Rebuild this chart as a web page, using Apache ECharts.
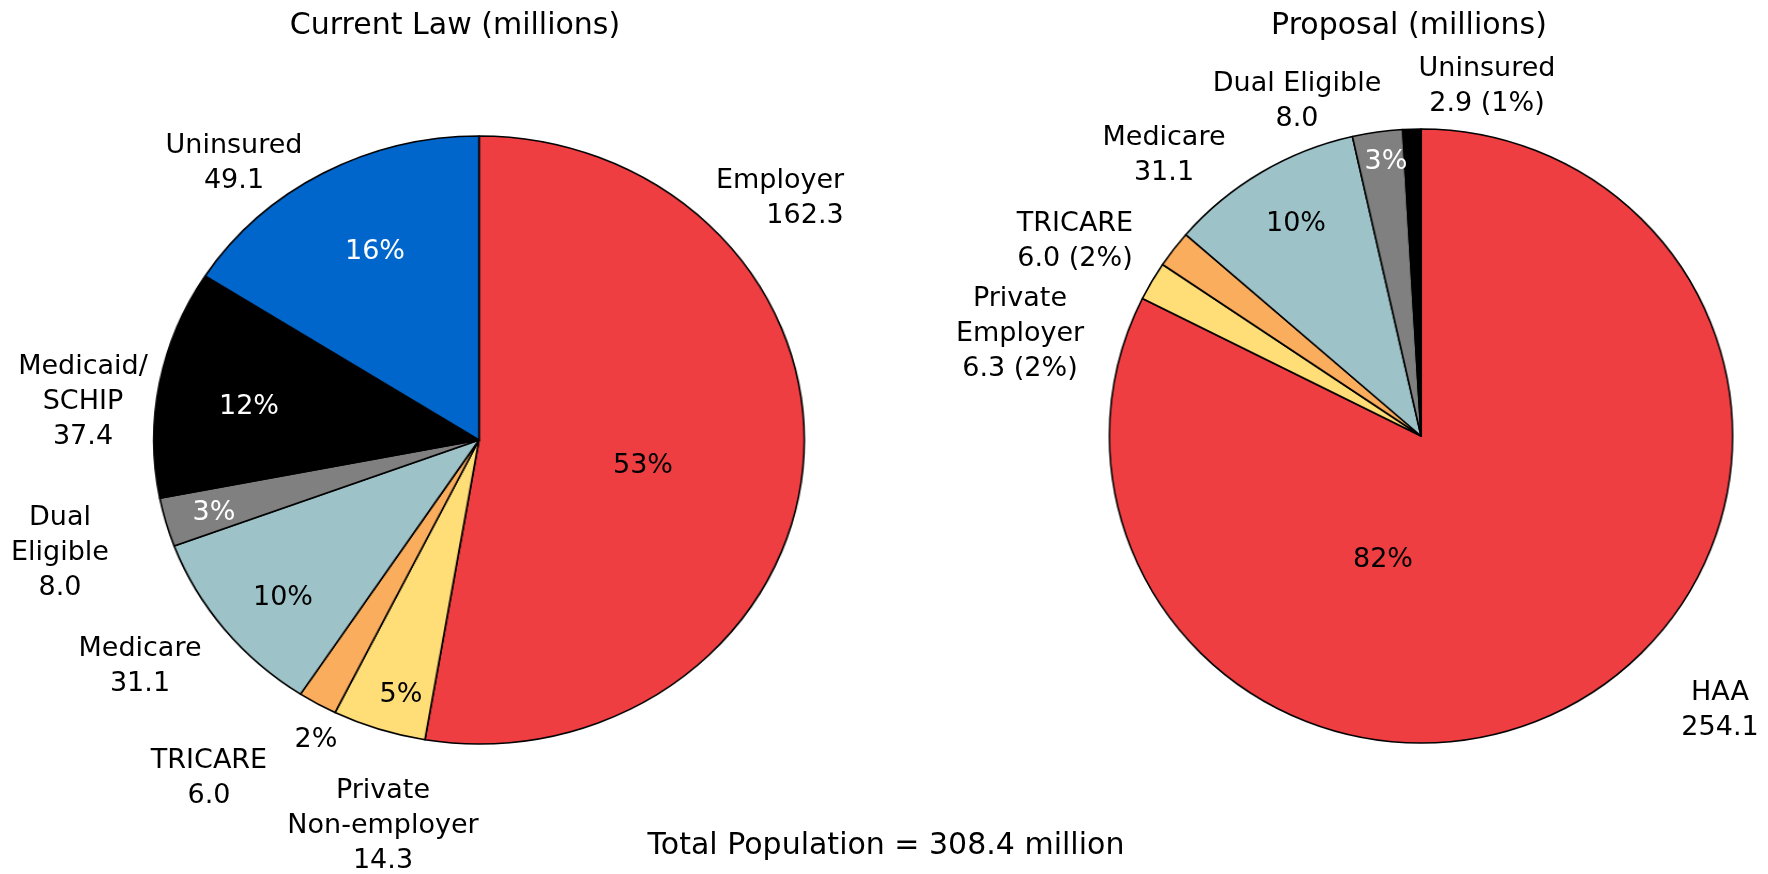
<!DOCTYPE html>
<html>
<head>
<meta charset="utf-8">
<script src="https://cdn.jsdelivr.net/npm/echarts@6/dist/echarts.min.js"></script>
<style>
html,body{margin:0;padding:0;background:#fff;}
#wrap{position:relative;width:1768px;height:874px;overflow:hidden;background:#fff;}
.layer{position:absolute;left:0;top:0;height:874px;transform-origin:0 0;}
</style>
</head>
<body>
<div id="wrap">
  <div id="pieL" class="layer"></div>
  <div id="pieR" class="layer"></div>
  <div id="main" class="layer" style="width:1768px;"></div>
</div>
<script>
// ---------- data ----------
const leftTitle = 'Current Law (millions)';
const rightTitle = 'Proposal (millions)';
const footer = 'Total Population = 308.4 million';

const leftNames  = ['Employer', 'Private\nNon-employer', 'TRICARE', 'Medicare', 'Dual\nEligible', 'Medicaid/\nSCHIP', 'Uninsured'];
const leftValues = [162.3, 14.3, 6.0, 31.1, 8.0, 37.4, 49.1];

const rightNames  = ['HAA', 'Private\nEmployer', 'TRICARE', 'Medicare', 'Dual Eligible', 'Uninsured'];
const rightValues = [254.1, 6.3, 6.0, 31.1, 8.0, 2.9];
const rightPctInName = [false, true, true, false, false, true];
const rightPctInside = [true, false, false, true, true, false];

// ---------- styles / positions ----------
const leftColors  = ['#EE3E42', '#FFDD77', '#FBAD5E', '#9DC3C8', '#808080', '#000000', '#0066CC'];
const rightColors = ['#EE3E42', '#FFDD77', '#FBAD5E', '#9DC3C8', '#808080', '#000000'];
const leftPctColors  = ['#000', '#000', '#000', '#000', '#fff', '#fff', '#fff'];
const rightPctColors = ['#000', '#000', '#000', '#000', '#fff', '#fff'];

// the reference pies are slightly wider than tall: draw them horizontally stretched
const SX_L = 1.07, SX_R = 1.015;
const LEFT_C = [479, 440], LEFT_R = 304;
const RIGHT_C = [1421, 436], RIGHT_R = 307;

const leftNamePos  = [[790, 198], [383, 826], [209, 778], [140, 666], [60, 553], [83, 402], [234, 163]];
const leftPctPos   = [[643, 466], [401, 695], [316, 740], [283, 598], [214, 513], [249, 407], [375, 252]];
const rightNamePos = [[1720, 710], [1020, 334], [1075, 241], [1164, 155], [1297, 101], [1487, 86]];
const rightPctPos  = [[1383, 560], [0, 0], [0, 0], [1296, 224], [1386, 162], [0, 0]];

const FONT = '"DejaVu Sans", Verdana, sans-serif';
const LABEL_SIZE = 27, LINE_H = 35, PCT_SIZE = 27, TITLE_SIZE = 30;

// ---------- visible pies ----------
function pieLayer(id, sx, center, r, names, values, colors) {
  const el = document.getElementById(id);
  el.style.width = (1768 / sx) + 'px';
  el.style.transform = 'scaleX(' + sx + ')';
  const ch = echarts.init(el, null, {renderer: 'canvas'});
  ch.setOption({
    animation: false,
    series: [{
      type: 'pie',
      silent: true,
      center: [center[0] / sx, center[1]],
      radius: r,
      startAngle: 90,
      clockwise: true,
      label: {show: false},
      labelLine: {show: false},
      itemStyle: {borderColor: '#000', borderWidth: 1.6},
      data: values.map((v, i) => ({name: names[i], value: v, itemStyle: {color: colors[i]}}))
    }]
  });
}
pieLayer('pieL', SX_L, LEFT_C, LEFT_R, leftNames, leftValues, leftColors);
pieLayer('pieR', SX_R, RIGHT_C, RIGHT_R, rightNames, rightValues, rightColors);

// ---------- labels (carried by transparent pies of the same data) ----------
function carrier(center, r, names, values, posArr, fmt, itemLabel, size) {
  return {
    type: 'pie',
    silent: true,
    center: center,
    radius: r,
    startAngle: 90,
    avoidLabelOverlap: false,
    itemStyle: {color: 'rgba(0,0,0,0)', borderWidth: 0},
    emphasis: {disabled: true},
    labelLine: {show: false},
    label: {
      show: true, position: 'inside', formatter: fmt,
      fontFamily: FONT, fontSize: size, lineHeight: LINE_H, color: '#000', align: 'center',
      rich: {
        e: {fontFamily: FONT, fontSize: size, lineHeight: LINE_H, color: '#000', padding: [0, 20, 0, 0]},
        v: {fontFamily: FONT, fontSize: size, lineHeight: LINE_H, color: '#000', padding: [0, 0, 0, 30]}
      }
    },
    labelLayout: function (p) {
      const q = posArr[p.dataIndex];
      return {x: q[0], y: q[1], align: 'center', verticalAlign: 'middle', hideOverlap: false};
    },
    data: values.map((v, i) => ({name: names[i], value: v, label: itemLabel ? itemLabel(i) : {}}))
  };
}
const pct = p => Math.round(p.percent) + '%';
const leftNameFmt = p => p.dataIndex === 0
  ? '{e|' + p.name + '}\n{v|' + p.value.toFixed(1) + '}'
  : p.name + '\n' + p.value.toFixed(1);
const rightNameFmt = p => p.name + '\n' + p.value.toFixed(1) +
  (rightPctInName[p.dataIndex] ? ' (' + Math.round(p.percent) + '%)' : '');

const main = echarts.init(document.getElementById('main'), null, {renderer: 'canvas'});
main.setOption({
  animation: false,
  backgroundColor: 'transparent',
  graphic: [
    {type: 'text', x: 455, y: 26, style: {text: leftTitle, font: TITLE_SIZE + 'px ' + FONT, fill: '#000', textAlign: 'center', textVerticalAlign: 'middle'}},
    {type: 'text', x: 1409, y: 26, style: {text: rightTitle, font: TITLE_SIZE + 'px ' + FONT, fill: '#000', textAlign: 'center', textVerticalAlign: 'middle'}},
    {type: 'text', x: 886, y: 846, style: {text: footer, font: TITLE_SIZE + 'px ' + FONT, fill: '#000', textAlign: 'center', textVerticalAlign: 'middle'}}
  ],
  series: [
    carrier(LEFT_C, LEFT_R, leftNames, leftValues, leftNamePos, leftNameFmt, null, LABEL_SIZE),
    carrier(LEFT_C, LEFT_R, leftNames, leftValues, leftPctPos, pct,
      i => ({color: leftPctColors[i]}), PCT_SIZE),
    carrier(RIGHT_C, RIGHT_R, rightNames, rightValues, rightNamePos, rightNameFmt, null, LABEL_SIZE),
    carrier(RIGHT_C, RIGHT_R, rightNames, rightValues, rightPctPos, pct,
      i => ({show: rightPctInside[i], color: rightPctColors[i]}), PCT_SIZE)
  ]
});
</script>
</body>
</html>
